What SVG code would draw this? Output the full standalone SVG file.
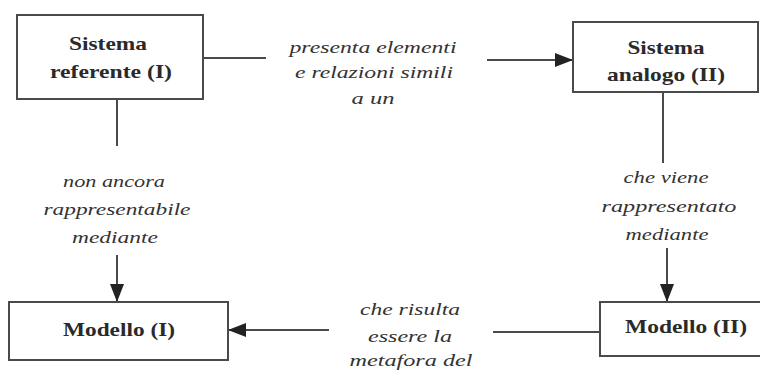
<svg xmlns="http://www.w3.org/2000/svg" width="760" height="371" viewBox="0 0 760 371">
<style>
.box{fill:#fff;stroke:#4a4a4a;stroke-width:2}
.nt{font-family:"Liberation Serif","Times New Roman","DejaVu Serif",serif;font-weight:bold;font-size:19px;fill:#2a2a2a;text-anchor:middle}
.lb{font-family:"Liberation Serif","Times New Roman","DejaVu Serif",serif;font-style:italic;font-size:17px;fill:#333;text-anchor:middle}
.ln{stroke:#4a4a4a;stroke-width:2;fill:none}
</style>
<defs>
<marker id="ah" markerWidth="18" markerHeight="14" refX="18" refY="7" orient="auto" markerUnits="userSpaceOnUse" viewBox="0 0 18 14">
<path d="M0,0 L18,7 L0,14 z" fill="#222"/>
</marker>
</defs>
<rect width="760" height="371" fill="#fff"/>
<g id="connectors">
<line class="ln" x1="203" y1="58" x2="266" y2="58"/>
<line class="ln" x1="487" y1="60" x2="573" y2="60" marker-end="url(#ah)"/>
<line class="ln" x1="117" y1="99" x2="117" y2="146"/>
<line class="ln" x1="117" y1="255" x2="117" y2="302" marker-end="url(#ah)"/>
<line class="ln" x1="663" y1="92" x2="663" y2="163"/>
<line class="ln" x1="667" y1="248" x2="667" y2="302" marker-end="url(#ah)"/>
<line class="ln" x1="600" y1="332" x2="493" y2="332"/>
<line class="ln" x1="329" y1="330" x2="228" y2="330" marker-end="url(#ah)"/>
<g class="lb">
<text x="373" y="53" textLength="167" lengthAdjust="spacingAndGlyphs">presenta elementi</text>
<text x="374" y="78" textLength="158" lengthAdjust="spacingAndGlyphs">e relazioni simili</text>
<text x="373" y="104" textLength="43" lengthAdjust="spacingAndGlyphs">a un</text>
<text x="114" y="187" textLength="102" lengthAdjust="spacingAndGlyphs">non ancora</text>
<text x="117" y="215" textLength="147" lengthAdjust="spacingAndGlyphs">rappresentabile</text>
<text x="115" y="243" textLength="86" lengthAdjust="spacingAndGlyphs">mediante</text>
<text x="666" y="183" textLength="85" lengthAdjust="spacingAndGlyphs">che viene</text>
<text x="669" y="212" textLength="135" lengthAdjust="spacingAndGlyphs">rappresentato</text>
<text x="667" y="240" textLength="83" lengthAdjust="spacingAndGlyphs">mediante</text>
<text x="410" y="315" textLength="100" lengthAdjust="spacingAndGlyphs">che risulta</text>
<text x="410" y="342" textLength="84" lengthAdjust="spacingAndGlyphs">essere la</text>
<text x="411" y="366" textLength="123" lengthAdjust="spacingAndGlyphs">metafora del</text>
</g>
</g>
<g id="sistema-referente">
<rect class="box" x="17" y="15" width="186" height="84"/>
<text class="nt" x="108" y="50" textLength="78" lengthAdjust="spacingAndGlyphs">Sistema</text>
<text class="nt" x="111" y="78" textLength="122" lengthAdjust="spacingAndGlyphs">referente (I)</text>
</g>
<g id="sistema-analogo">
<rect class="box" x="573" y="22" width="185" height="70"/>
<text class="nt" x="666" y="54" textLength="77" lengthAdjust="spacingAndGlyphs">Sistema</text>
<text class="nt" x="666" y="81" textLength="118" lengthAdjust="spacingAndGlyphs">analogo (II)</text>
</g>
<g id="modello-1">
<rect class="box" x="9" y="302" width="219" height="58"/>
<text class="nt" x="119" y="336" textLength="112" lengthAdjust="spacingAndGlyphs">Modello (I)</text>
</g>
<g id="modello-2">
<rect class="box" x="600" y="302" width="170" height="54"/>
<text class="nt" x="686" y="333" textLength="122" lengthAdjust="spacingAndGlyphs">Modello (II)</text>
</g>
</svg>
